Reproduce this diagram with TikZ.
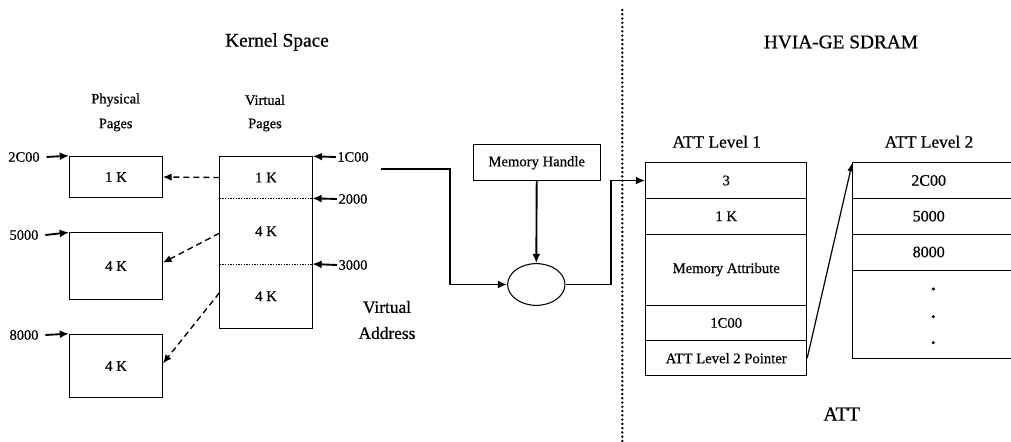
\documentclass[tikz,border=0pt]{standalone}
\usepackage{fontspec}
\setmainfont{Liberation Serif}[FakeBold=0.6]
\usetikzlibrary{arrows.meta,shapes.geometric}
\tikzset{
  box/.style={draw, line width=0.7pt, inner sep=0pt, font=\fontsize{11}{13}\selectfont},
  cell/.style={box, minimum width=120.75pt},
  lbl/.style={inner sep=0pt, font=\fontsize{10.8}{13}\selectfont},
  ttl/.style={inner sep=0pt, font=\fontsize{14.5}{17}\selectfont},
  sub/.style={inner sep=0pt, font=\fontsize{13}{15}\selectfont},
  arr/.style={line width=1.4pt, -{Latex[length=7pt,width=6pt]}},
  darr/.style={line width=1pt, dash pattern=on 4.5pt off 3pt, -{Latex[length=6.5pt,width=5.5pt]}},
  sep/.style={line width=0.7pt, dash pattern=on 1pt off 1pt},
}
\begin{document}
\begin{tikzpicture}[x=0.75pt,y=-0.75pt]
\path[use as bounding box] (0,0) rectangle (1011,442);

% titles
\node[ttl] (ks) at (277,42) {Kernel Space};
\node[ttl] (hv) at (841,42) {HVIA-GE SDRAM};
\node[lbl] (php) at (115.7,100) {Physical};
\node[lbl] (php2) at (115.7,125) {Pages};
\node[lbl] (vip) at (265,100) {Virtual};
\node[lbl] (vip2) at (265,125) {Pages};

% separator
\draw[line width=2pt, line cap=round, dash pattern=on 0pt off 3.2pt] (622.3,10) -- (622.3,442);

% physical pages
\node[box, minimum width=69.75pt, minimum height=31.3pt] (p1) at (116,177) {1 K};
\node[box, minimum width=69.75pt, minimum height=49.7pt] (p2) at (116,266) {4 K};
\node[box, minimum width=69.75pt, minimum height=47.8pt] (p3) at (116,366) {4 K};

\node[lbl] (a1) at (24,157) {2C00};
\node[lbl] (a2) at (24,235) {5000};
\node[lbl] (a3) at (24,335) {8000};
\draw[arr] ([xshift=5pt]a1.east) -- (p1.north west);
\draw[arr] ([xshift=5pt]a2.east) -- (p2.north west);
\draw[arr] ([xshift=5pt]a3.east) -- (p3.north west);

% virtual pages
\node[box, minimum width=69.5pt, minimum height=128.6pt] (vbox) at (266,242.5) {};
\node[lbl, font=\fontsize{11}{13}\selectfont, minimum width=69.5pt, minimum height=31.2pt] (v1) at (266,177.5) {1 K};
\node[lbl, font=\fontsize{11}{13}\selectfont, minimum width=69.5pt, minimum height=49.3pt] (v2) at (266,231.2) {4 K};
\node[lbl, font=\fontsize{11}{13}\selectfont, minimum width=69.5pt, minimum height=48.2pt] (v3) at (266,296.2) {4 K};
\coordinate (d1w) at (219.7,198.3);
\coordinate (d1e) at (312.3,198.3);
\coordinate (d2w) at (219.7,264);
\coordinate (d2e) at (312.3,264);
\draw[sep] (d1w) -- (d1e);
\draw[sep] (d2w) -- (d2e);

\node[lbl] (b1) at (353,157) {1C00};
\node[lbl] (b2) at (353,199) {2000};
\node[lbl] (b3) at (353,265) {3000};
\draw[arr] ([xshift=-1pt]b1.west) -- (vbox.north east);
\draw[arr] ([xshift=-1pt]b2.west) -- (d1e);
\draw[arr] ([xshift=-1pt]b3.west) -- (d2e);

\draw[darr] (v1.west) -- (p1.east);
\draw[darr] ([yshift=-1.5pt]v2.west) -- ([yshift=2.5pt]p2.east);
\draw[darr] ([yshift=2.5pt]v3.west) -- ([yshift=2pt]p3.east);

\node[sub] (va1) at (387,307) {Virtual};
\node[sub] (va2) at (387,333) {Address};

% memory handle and ellipse
\node[box, font=\fontsize{11}{13}\selectfont, minimum width=95pt, minimum height=26.8pt] (mh) at (536.7,162.8) {Memory Handle};
\node[draw, line width=0.8pt, ellipse, minimum width=43pt, minimum height=31.3pt, inner sep=0pt] (ell) at (536.3,284.5) {};
\coordinate (vstart) at (380.7,169.3);
\coordinate (m1) at (450,230);
\coordinate (m2) at (610.7,230);
\draw[arr] (vstart) -| (m1) |- (ell.west);
\draw[arr] (mh.south) -- (ell.north);

% ATT level 1
\node[sub] (t1) at (716.7,141.7) {ATT Level 1};
\node[cell, minimum height=26.7pt] (r1) at (726.2,180.5) {3};
\node[cell, minimum height=26.8pt] (r2) at (726.2,216.2) {1 K};
\node[cell, minimum height=53.25pt] (r3) at (726.2,269.5) {Memory Attribute};
\node[cell, minimum height=26.8pt] (r4) at (726.2,322.9) {1C00};
\node[cell, minimum height=26.25pt] (r5) at (726.2,358.2) {ATT Level 2 Pointer};
\draw[arr] (ell.east) -| (m2) |- (r1.west);

% ATT level 2
\node[sub] (t2) at (929,141.7) {ATT Level 2};
\coordinate (q0) at (852.3,162.7);
\coordinate (q0e) at (1011,162.7);
\coordinate (q1) at (852.3,198.3);
\coordinate (q1e) at (1011,198.3);
\coordinate (q2) at (852.3,234);
\coordinate (q2e) at (1011,234);
\coordinate (q3) at (852.3,270);
\coordinate (q3e) at (1011,270);
\coordinate (q4) at (852.3,358.3);
\coordinate (q4e) at (1011,358.3);
\draw[line width=0.7pt] (q0e) -- (q0) -- (q4) -- (q4e);
\draw[line width=0.7pt] (q1) -- (q1e);
\draw[line width=0.7pt] (q2) -- (q2e);
\draw[line width=0.7pt] (q3) -- (q3e);
\node[lbl, font=\fontsize{12}{14}\selectfont] (e1) at (928.7,180.5) {2C00};
\node[lbl, font=\fontsize{12}{14}\selectfont] (e2) at (928.7,216.2) {5000};
\node[lbl, font=\fontsize{12}{14}\selectfont] (e3) at (928.7,252) {8000};
\fill (933.3,289) circle (1.3pt);
\fill (933.3,316.7) circle (1.3pt);
\fill (933.3,342.7) circle (1.3pt);
\draw[line width=0.9pt, -{Latex[length=6.5pt,width=4.5pt]}] (r5.east) -- (q0);

\node[inner sep=0pt, font=\fontsize{15}{17}\selectfont] (att) at (841.7,414) {ATT};
\end{tikzpicture}
\end{document}
